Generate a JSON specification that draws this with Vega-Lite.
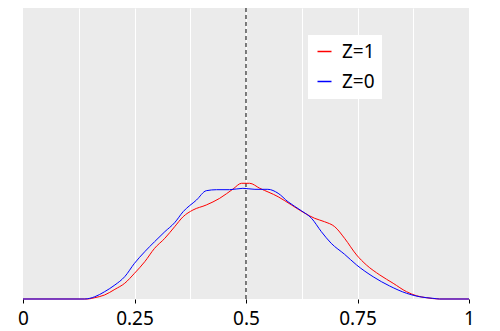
{
  "$schema": "https://vega.github.io/schema/vega-lite/v6.json",
  "width": 446,
  "height": 291,
  "autosize": "none",
  "padding": {"left": 23, "top": 8, "right": 31, "bottom": 32},
  "background": "white",
  "config": {
    "view": {"fill": "#EBEBEB", "stroke": null},
    "font": "Noto Sans"
  },
  "datasets": {
    "curves": [
      {"x": 0.0, "density": 0.0, "group": "Z=1"},
      {"x": 0.145, "density": 0.0, "group": "Z=1"},
      {"x": 0.161, "density": 0.025, "group": "Z=1"},
      {"x": 0.183, "density": 0.076, "group": "Z=1"},
      {"x": 0.206, "density": 0.183, "group": "Z=1"},
      {"x": 0.228, "density": 0.297, "group": "Z=1"},
      {"x": 0.25, "density": 0.486, "group": "Z=1"},
      {"x": 0.273, "density": 0.705, "group": "Z=1"},
      {"x": 0.295, "density": 0.958, "group": "Z=1"},
      {"x": 0.318, "density": 1.147, "group": "Z=1"},
      {"x": 0.34, "density": 1.366, "group": "Z=1"},
      {"x": 0.359, "density": 1.555, "group": "Z=1"},
      {"x": 0.381, "density": 1.682, "group": "Z=1"},
      {"x": 0.411, "density": 1.777, "group": "Z=1"},
      {"x": 0.441, "density": 1.903, "group": "Z=1"},
      {"x": 0.471, "density": 2.079, "group": "Z=1"},
      {"x": 0.49, "density": 2.187, "group": "Z=1"},
      {"x": 0.508, "density": 2.187, "group": "Z=1"},
      {"x": 0.531, "density": 2.092, "group": "Z=1"},
      {"x": 0.572, "density": 1.933, "group": "Z=1"},
      {"x": 0.602, "density": 1.777, "group": "Z=1"},
      {"x": 0.632, "density": 1.62, "group": "Z=1"},
      {"x": 0.654, "density": 1.525, "group": "Z=1"},
      {"x": 0.676, "density": 1.461, "group": "Z=1"},
      {"x": 0.699, "density": 1.366, "group": "Z=1"},
      {"x": 0.721, "density": 1.147, "group": "Z=1"},
      {"x": 0.748, "density": 0.832, "group": "Z=1"},
      {"x": 0.77, "density": 0.643, "group": "Z=1"},
      {"x": 0.8, "density": 0.454, "group": "Z=1"},
      {"x": 0.83, "density": 0.297, "group": "Z=1"},
      {"x": 0.86, "density": 0.138, "group": "Z=1"},
      {"x": 0.882, "density": 0.062, "group": "Z=1"},
      {"x": 0.904, "density": 0.025, "group": "Z=1"},
      {"x": 0.934, "density": 0.0, "group": "Z=1"},
      {"x": 1.0, "density": 0.0, "group": "Z=1"},
      {"x": 0.0, "density": 0.0, "group": "Z=0"},
      {"x": 0.138, "density": 0.0, "group": "Z=0"},
      {"x": 0.161, "density": 0.043, "group": "Z=0"},
      {"x": 0.183, "density": 0.138, "group": "Z=0"},
      {"x": 0.206, "density": 0.265, "group": "Z=0"},
      {"x": 0.228, "density": 0.421, "group": "Z=0"},
      {"x": 0.25, "density": 0.675, "group": "Z=0"},
      {"x": 0.273, "density": 0.894, "group": "Z=0"},
      {"x": 0.295, "density": 1.083, "group": "Z=0"},
      {"x": 0.318, "density": 1.272, "group": "Z=0"},
      {"x": 0.34, "density": 1.442, "group": "Z=0"},
      {"x": 0.359, "density": 1.65, "group": "Z=0"},
      {"x": 0.389, "density": 1.871, "group": "Z=0"},
      {"x": 0.411, "density": 2.047, "group": "Z=0"},
      {"x": 0.434, "density": 2.066, "group": "Z=0"},
      {"x": 0.463, "density": 2.066, "group": "Z=0"},
      {"x": 0.493, "density": 2.092, "group": "Z=0"},
      {"x": 0.52, "density": 2.073, "group": "Z=0"},
      {"x": 0.549, "density": 2.073, "group": "Z=0"},
      {"x": 0.572, "density": 1.998, "group": "Z=0"},
      {"x": 0.594, "density": 1.839, "group": "Z=0"},
      {"x": 0.624, "density": 1.669, "group": "Z=0"},
      {"x": 0.647, "density": 1.525, "group": "Z=0"},
      {"x": 0.669, "density": 1.272, "group": "Z=0"},
      {"x": 0.691, "density": 1.053, "group": "Z=0"},
      {"x": 0.721, "density": 0.845, "group": "Z=0"},
      {"x": 0.748, "density": 0.643, "group": "Z=0"},
      {"x": 0.785, "density": 0.421, "group": "Z=0"},
      {"x": 0.822, "density": 0.246, "group": "Z=0"},
      {"x": 0.86, "density": 0.108, "group": "Z=0"},
      {"x": 0.889, "density": 0.043, "group": "Z=0"},
      {"x": 0.919, "density": 0.013, "group": "Z=0"},
      {"x": 0.934, "density": 0.0, "group": "Z=0"},
      {"x": 1.0, "density": 0.0, "group": "Z=0"}
    ],
    "ref": [{"x": 0.5}]
  },
  "layer": [
    {
      "data": {"name": "ref"},
      "mark": {"type": "rule", "color": "black", "strokeDash": [4, 3], "strokeWidth": 1},
      "encoding": {
        "x": {"field": "x", "type": "quantitative", "scale": {"domain": [0, 1], "nice": false}}
      }
    },
    {
      "data": {"name": "curves"},
      "mark": {"type": "line", "strokeWidth": 1, "interpolate": "monotone"},
      "encoding": {
        "x": {
          "field": "x",
          "type": "quantitative",
          "scale": {"domain": [0, 1], "nice": false},
          "axis": {
            "title": null,
            "values": [0, 0.125, 0.25, 0.375, 0.5, 0.625, 0.75, 0.875, 1],
            "domain": false,
            "grid": true,
            "gridColor": "white",
            "gridWidth": 1,
            "gridOpacity": {"condition": {"test": "datum.value > 0 && datum.value < 1", "value": 1}, "value": 0},
            "tickColor": "black",
            "tickSize": 4,
            "tickOpacity": {"condition": {"test": "abs(datum.value * 4 - round(datum.value * 4)) < 0.01", "value": 1}, "value": 0},
            "labelExpr": "abs(datum.value * 4 - round(datum.value * 4)) < 0.01 ? toString(datum.value) : ''",
            "labelFontSize": 19,
            "labelColor": "black",
            "labelPadding": 6,
            "labelFlush": false,
            "labelOverlap": false,
            "zindex": 0
          }
        },
        "y": {
          "field": "density",
          "type": "quantitative",
          "scale": {"domain": [0, 5.5], "nice": false, "zero": true},
          "axis": null
        },
        "color": {
          "field": "group",
          "type": "nominal",
          "scale": {"domain": ["Z=1", "Z=0"], "range": ["#FF0000", "#0000FF"]},
          "legend": {
            "title": null,
            "orient": "none",
            "legendX": 285,
            "legendY": 27,
            "fillColor": "white",
            "padding": 7,
            "symbolType": "stroke",
            "symbolSize": 196,
            "symbolStrokeWidth": 1.5,
            "labelFontSize": 19,
            "labelColor": "black",
            "labelOffset": 8,
            "rowPadding": 10
          }
        }
      }
    }
  ]
}
